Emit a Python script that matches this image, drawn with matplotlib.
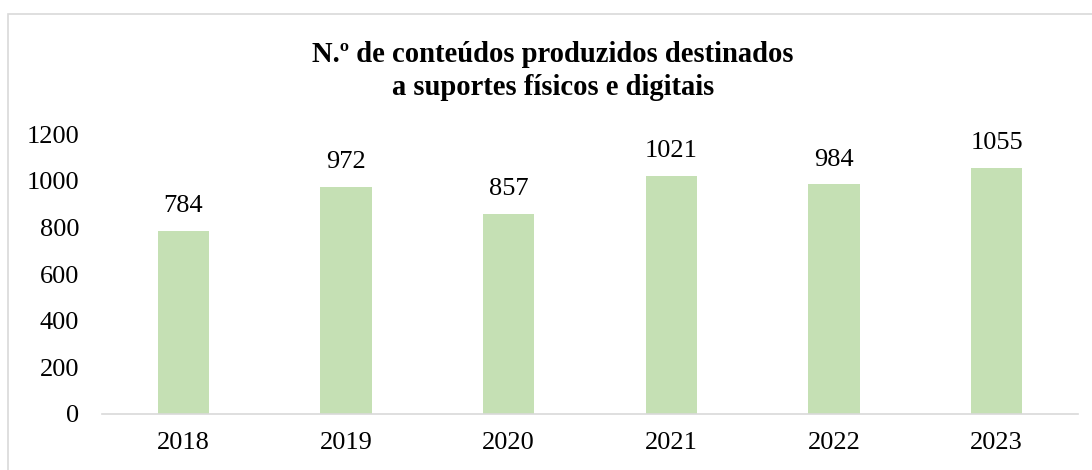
import matplotlib.pyplot as plt
from matplotlib.patches import Rectangle

years = ["2018", "2019", "2020", "2021", "2022", "2023"]
conteudos = [784, 972, 857, 1021, 984, 1055]

plt.rcParams['font.family'] = ['Liberation Serif', 'DejaVu Serif']

fig = plt.figure(figsize=(10.92, 4.7), dpi=100)
ax = fig.add_axes([102 / 1092, 1 - 414 / 470, 976 / 1092, 280 / 470])

# moldura do gráfico
fig.patches.append(Rectangle((8 / 1092, -0.1), 1.2, 1.1 - 14 / 470, transform=fig.transFigure,
                             fill=False, edgecolor='#D9D9D9', linewidth=1.2))

x = range(len(years))
bars = ax.bar(x, conteudos, width=0.314, color='#C5E0B4')
ax.bar_label(bars, labels=[str(v) for v in conteudos], padding=10, fontsize=19)

ax.set_xlim(-0.5, len(years) - 0.5)
ax.set_ylim(0, 1200)
ax.set_yticks(range(0, 1201, 200))
ax.set_xticks(list(x))
ax.set_xticklabels(years)
ax.tick_params(axis='both', length=0, labelsize=19)
ax.tick_params(axis='y', pad=16.5)
ax.tick_params(axis='x', pad=13)

for s in ['top', 'right', 'left']:
    ax.spines[s].set_visible(False)
ax.spines['bottom'].set_color('#D9D9D9')
ax.spines['bottom'].set_linewidth(1.2)

fig.text(553 / 1092, 1 - 71 / 470,
         "N.º de conteúdos produzidos destinados\na suportes físicos e digitais",
         ha='center', va='center', fontsize=20.6, fontweight='bold', linespacing=1.3)

fig.savefig('out.png', dpi=100)
